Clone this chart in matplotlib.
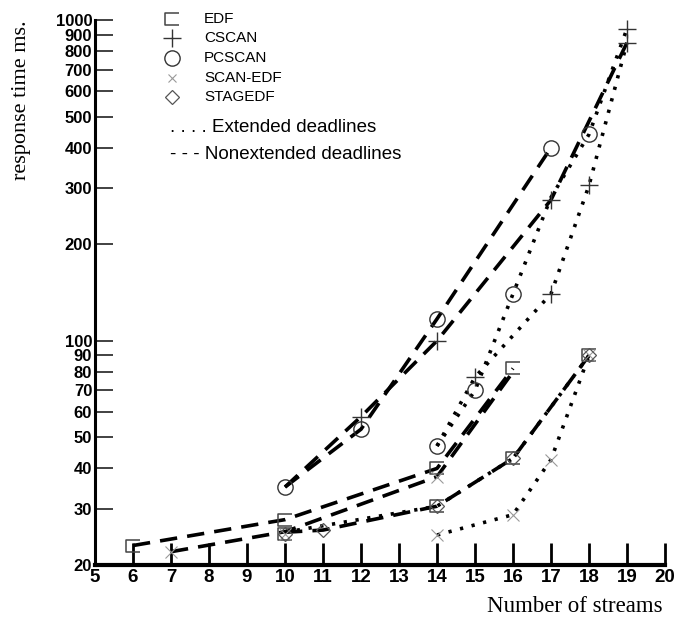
import numpy as np
import matplotlib.pyplot as plt
from matplotlib.path import Path
from matplotlib.ticker import FixedLocator, NullLocator, FixedFormatter

# nonextended deadlines (dashed)
pcscan_non_x = [10, 12, 14, 17]
pcscan_non_y = [35, 53, 117, 400]
cscan_non_x = [10, 12, 14, 17, 19]
cscan_non_y = [35, 58, 100, 275, 850]
edf_non_x = [6, 10, 14, 16]
edf_non_y = [23, 27.7, 40, 82]
scanedf_non_x = [7, 10, 14, 16]
scanedf_non_y = [22, 25.4, 37.7, 80]
stagedf_non_x = [10, 11, 14, 16, 18]
stagedf_non_y = [25.3, 25.7, 30.5, 43, 90]

# extended deadlines (dotted)
pcscan_ext_x = [14, 15, 16, 17, 18, 19]
pcscan_ext_y = [47, 70, 140, 280, 440, 940]
cscan_ext_x = [14, 15, 17, 18, 19]
cscan_ext_y = [47, 77, 140, 305, 850]
edf_ext_x = [10, 14, 16, 18]
edf_ext_y = [25.3, 30.5, 43, 90]
scanedf_ext_x = [14, 16, 17, 18]
scanedf_ext_y = [24.8, 28.7, 42.6, 90]

# marker positions per scheduler
edf_pts_x = [6, 10, 10, 14, 14, 16, 16, 18]
edf_pts_y = [23, 27.7, 25, 40, 30.5, 82, 43, 90]
cscan_pts_x = [12, 14, 15, 17, 17, 18, 19, 19]
cscan_pts_y = [58, 100, 77, 275, 140, 305, 940, 850]
pcscan_pts_x = [10, 12, 14, 17, 14, 15, 16, 18]
pcscan_pts_y = [35, 53, 117, 400, 47, 70, 140, 440]
scanedf_pts_x = [7, 10, 14, 14, 16, 17, 18]
scanedf_pts_y = [22, 25, 37.7, 24.8, 28.7, 42.6, 90]
stagedf_pts_x = [10, 11, 14, 16, 18]
stagedf_pts_y = [25, 25.7, 30.5, 43, 90]

yticks = [20, 30, 40, 50, 60, 70, 80, 90, 100, 200, 300, 400, 500, 600, 700, 800, 900, 1000]
xticks = list(range(5, 21))

# bracket shaped marker for EDF (open on the right)
bracket = Path([(1, 0.85), (-1, 0.85), (-1, -0.85), (1, -0.85)],
               [Path.MOVETO, Path.LINETO, Path.LINETO, Path.LINETO])

fig = plt.figure(figsize=(6.77, 6.19), dpi=100)
ax = fig.add_axes([95/677, 54/619, 570/677, 545/619])
ax.set_yscale('log')

dash = dict(color='black', lw=2.6, linestyle=(0, (4.8, 2.8)), dash_capstyle='butt')
dot = dict(color='black', lw=2.6, linestyle=(0, (0.9, 2.4)), dash_capstyle='butt')

for x, y in [(pcscan_non_x, pcscan_non_y), (cscan_non_x, cscan_non_y),
             (edf_non_x, edf_non_y), (scanedf_non_x, scanedf_non_y),
             (stagedf_non_x, stagedf_non_y)]:
    ax.plot(x, y, **dash)
for x, y in [(pcscan_ext_x, pcscan_ext_y), (cscan_ext_x, cscan_ext_y),
             (edf_ext_x, edf_ext_y), (scanedf_ext_x, scanedf_ext_y)]:
    ax.plot(x, y, **dot)

mk = dict(linestyle='None', markerfacecolor='none', clip_on=False)
ax.plot(edf_pts_x, edf_pts_y, marker=bracket, markersize=10, markeredgecolor='#444444', markeredgewidth=1.1, **mk)
ax.plot(cscan_pts_x, cscan_pts_y, marker='+', markersize=13, markeredgecolor='#333333', markeredgewidth=1.0, **mk)
ax.plot(pcscan_pts_x, pcscan_pts_y, marker='o', markersize=11, markeredgecolor='#333333', markeredgewidth=1.0, **mk)
ax.plot(scanedf_pts_x, scanedf_pts_y, marker='x', markersize=9, markeredgecolor='#999999', markeredgewidth=0.8, **mk)
ax.plot(stagedf_pts_x, stagedf_pts_y, marker='D', markersize=7, markeredgecolor='#555555', markeredgewidth=0.9, **mk)

ax.set_xlim(5, 20)
ax.set_ylim(20, 1000)
for s in ['top', 'right']:
    ax.spines[s].set_visible(False)
ax.spines['left'].set_linewidth(2.2)
ax.spines['bottom'].set_linewidth(3)

ax.yaxis.set_major_locator(FixedLocator(yticks))
ax.yaxis.set_major_formatter(FixedFormatter([str(v) for v in yticks]))
ax.yaxis.set_minor_locator(NullLocator())
ax.set_xticks(xticks)
ax.set_xticklabels([str(v) for v in xticks])
ax.tick_params(axis='y', direction='in', length=13, width=1.3, color='#333333', pad=2,
               labelsize=12)
ax.tick_params(axis='x', direction='in', length=16, width=2, color='black', pad=3,
               labelsize=13.5)
for lab in ax.get_yticklabels() + ax.get_xticklabels():
    lab.set_fontweight('bold')
    lab.set_family('Liberation Sans')

fig.text(22/677, 1 - 100/619, 'response time ms.', rotation=90, ha='center', va='center',
         family='Liberation Serif', fontsize=16)
fig.text(663/677, 1 - 606/619, 'Number of streams', ha='right', va='center',
         family='Liberation Serif', fontsize=16.5)

# key
key_names = ['EDF', 'CSCAN', 'PCSCAN', 'SCAN-EDF', 'STAGEDF']
key_rows = [19, 38, 58, 78, 97]
key_marks = [dict(marker=bracket, markersize=10, markeredgecolor='#444444', markeredgewidth=1.1),
             dict(marker='+', markersize=13, markeredgecolor='#333333', markeredgewidth=1.0),
             dict(marker='o', markersize=11, markeredgecolor='#333333', markeredgewidth=1.0),
             dict(marker='x', markersize=6, markeredgecolor='#999999', markeredgewidth=0.8),
             dict(marker='D', markersize=7, markeredgecolor='#555555', markeredgewidth=0.9)]
for name, row, m in zip(key_names, key_rows, key_marks):
    fig.lines.append(plt.Line2D([172/677], [1 - row/619], transform=fig.transFigure,
                                linestyle='None', markerfacecolor='none', **m))
    fig.text(204/677, 1 - row/619, name, ha='left', va='center',
             family='Liberation Sans', fontsize=11)
fig.text(170/677, 1 - 127/619, '. . . . Extended deadlines', ha='left', va='center',
         family='Liberation Sans', fontsize=13.5)
fig.text(170/677, 1 - 154/619, '- - - Nonextended deadlines', ha='left', va='center',
         family='Liberation Sans', fontsize=13.5)

fig.savefig('out.png', dpi=100)
